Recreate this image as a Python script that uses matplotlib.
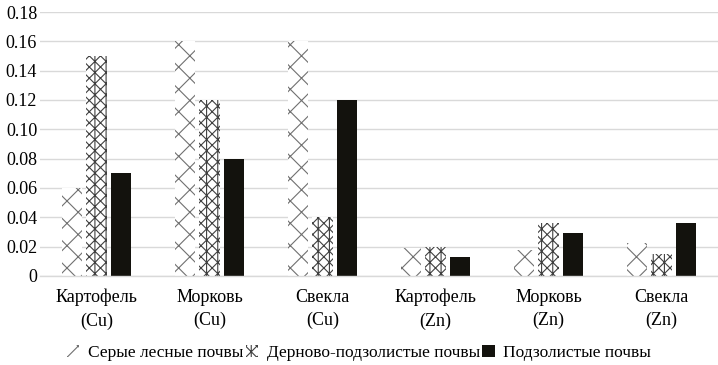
import matplotlib
matplotlib.use("Agg")
import matplotlib.pyplot as plt
import numpy as np
from matplotlib import font_manager

categories = ["Картофель\n(Cu)", "Морковь\n(Cu)", "Свекла\n(Cu)",
              "Картофель\n(Zn)", "Морковь\n(Zn)", "Свекла\n(Zn)"]
series_names = ["Серые лесные почвы", "Дерново-подзолистые почвы", "Подзолистые почвы"]
grey_forest = [0.06, 0.16, 0.16, 0.019, 0.0175, 0.0225]
sod_podzolic = [0.15, 0.12, 0.04, 0.020, 0.036, 0.015]
podzolic = [0.07, 0.08, 0.12, 0.013, 0.029, 0.036]
yticks = [0, 0.02, 0.04, 0.06, 0.08, 0.10, 0.12, 0.14, 0.16, 0.18]
ytick_labels = ["0", "0.02", "0.04", "0.06", "0.08", "0.10", "0.12", "0.14", "0.16", "0.18"]

DPI = 67
S = 100 / DPI

serif_path = font_manager.findfont(font_manager.FontProperties(family="Liberation Serif"))
serif_fp = font_manager.FontProperties(fname=serif_path, size=13 * S)
legend_fp = font_manager.FontProperties(fname=serif_path, size=12.5 * S)

plt.rcParams["hatch.linewidth"] = 0.8 * S

fig = plt.figure(figsize=(718 / DPI, 365 / DPI), dpi=DPI)
ax = fig.add_axes([40/718, 89/365, 678/718, 264/365])

x = np.arange(len(categories))
w = 0.177
off = 0.221

b1 = ax.bar(x - off, grey_forest, w, facecolor="white", edgecolor="#707070",
            hatch="x", linewidth=0, label=series_names[0], zorder=3)
b2 = ax.bar(x, sod_podzolic, w, facecolor="white", edgecolor="#404040",
            hatch="xx|", linewidth=0, label=series_names[1], zorder=3)
b3 = ax.bar(x + off, podzolic, w, facecolor="#13120d", edgecolor="#13120d",
            linewidth=0, label=series_names[2], zorder=3)

ax.set_xlim(-0.5, len(categories) - 0.5)
ax.set_ylim(0, 0.18)
ax.set_yticks(yticks)
ax.set_yticklabels(ytick_labels, fontproperties=serif_fp)
ax.set_xticks(x)
ax.set_xticklabels(categories, fontproperties=serif_fp, linespacing=1.5)
ax.grid(axis="y", color="#d9d9d9", linewidth=1.0 * S, zorder=0)
for s in ["top", "right", "left"]:
    ax.spines[s].set_visible(False)
ax.spines["bottom"].set_color("#d9d9d9")
ax.spines["bottom"].set_linewidth(1.0 * S)
ax.spines["bottom"].set_zorder(4)
ax.tick_params(axis="both", length=0)
ax.tick_params(axis="y", pad=2 * S)
ax.tick_params(axis="x", pad=9 * S)

leg = fig.legend(handles=[b1, b2, b3], loc="center", bbox_to_anchor=(0.5, 12/365),
                 ncol=3, frameon=False, handlelength=0.7, handleheight=0.7,
                 handletextpad=0.5, columnspacing=0.15, prop=legend_fp)

fig.savefig("out.png", dpi=DPI)
